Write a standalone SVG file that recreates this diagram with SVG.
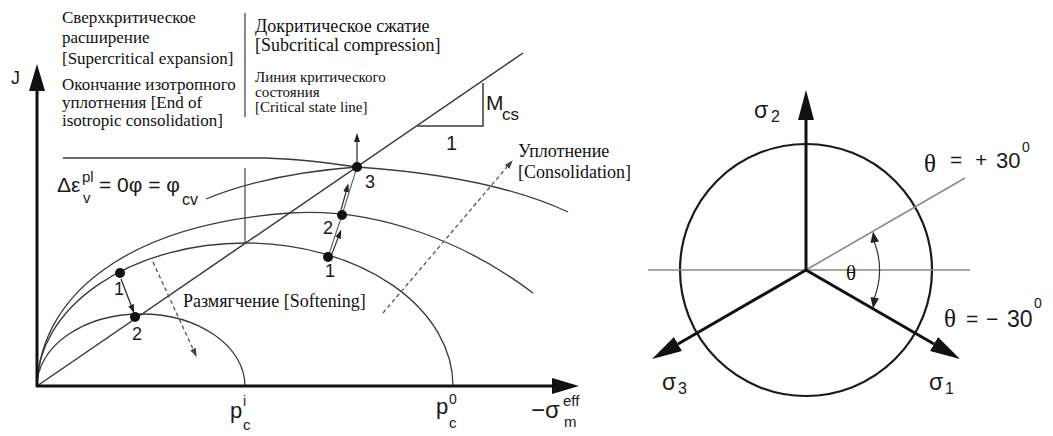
<svg xmlns="http://www.w3.org/2000/svg" width="1053" height="436" viewBox="0 0 1053 436">
<style>
.serif{font-family:"Liberation Serif","Times New Roman",serif;fill:#111}
.sans{font-family:"Liberation Sans",Arial,sans-serif;fill:#1a1a1a}
.axis{stroke:#111;stroke-width:3;fill:none}
.crv{stroke:#3a3a3a;stroke-width:1.3;fill:none}
.thin{stroke:#444;stroke-width:1.2;fill:none}
.dash{stroke:#555;stroke-width:1.3;fill:none;stroke-dasharray:4 3}
.gray{stroke:#8a8a8a;stroke-width:1.6;fill:none}
.dot{fill:#111}
</style>
<defs>
<marker id="axA" markerUnits="userSpaceOnUse" viewBox="0 0 27 16" markerWidth="27" markerHeight="16" refX="0" refY="8" orient="auto"><path d="M0,0 L27,8 L0,16 z" fill="#111"/></marker>
<marker id="sgA" markerUnits="userSpaceOnUse" viewBox="0 0 30 16" markerWidth="30" markerHeight="16" refX="0" refY="8" orient="auto"><path d="M0,0 L30,8 L0,16 z" fill="#111"/></marker>
<marker id="smA" markerUnits="userSpaceOnUse" viewBox="0 0 9 6" markerWidth="9" markerHeight="6" refX="0" refY="3" orient="auto"><path d="M0,0 L9,3 L0,6 z" fill="#222"/></marker>
<marker id="dgA" markerUnits="userSpaceOnUse" viewBox="0 0 9 6" markerWidth="9" markerHeight="6" refX="0" refY="3" orient="auto"><path d="M0,0 L9,3 L0,6 z" fill="#444"/></marker>
</defs>
<rect width="1053" height="436" fill="#fff"/>

<!-- Left diagram: curves -->
<g id="curves">
<path class="crv" d="M37,386 A104,72 0 0 1 245,386"/>
<path class="crv" d="M37,386 A208,143 0 0 1 453,386"/>
<path class="crv" d="M37,386 C40,300 120,225 290,213 C380,207 470,245 533,293"/>
<path class="crv" d="M63,158 L265,158 C300,159 330,163 357,167 C430,172 510,185 568,212"/>
<path class="crv" d="M206,199 C240,185 290,172 357,167"/>
<line class="thin" x1="245" y1="168" x2="245" y2="244"/>
<line class="crv" x1="37" y1="386" x2="523" y2="53" style="stroke-width:1.5"/>
<path class="crv" d="M417,126 H483 V83" style="stroke-width:1.5"/>
</g>

<!-- Axes -->
<g id="axes">
<line class="axis" x1="37" y1="387" x2="37" y2="91" marker-end="url(#axA)"/>
<line class="axis" x1="36" y1="386" x2="552" y2="386" marker-end="url(#axA)"/>
</g>

<!-- Connectors (state-path arrows) -->
<g id="connectors">
<line class="thin" x1="121" y1="279" x2="131" y2="305" style="stroke:#222" marker-end="url(#smA)"/>
<line class="thin" x1="328" y1="257" x2="342" y2="215" style="stroke:#666"/>
<line class="thin" x1="331" y1="256" x2="338" y2="238" style="stroke:#333" marker-end="url(#smA)"/>
<line class="thin" x1="342" y1="215" x2="357" y2="167" style="stroke:#666"/>
<line class="thin" x1="341" y1="210" x2="346" y2="192" style="stroke:#333" marker-end="url(#smA)"/>
<line class="thin" x1="357" y1="162" x2="357" y2="142" style="stroke:#222" marker-end="url(#smA)"/>
<line class="dash" x1="153" y1="262" x2="193" y2="349" marker-end="url(#dgA)"/>
<line class="dash" x1="383" y1="313" x2="507" y2="167" marker-end="url(#dgA)"/>
</g>

<!-- State points -->
<g id="point-1a"><circle class="dot" cx="120" cy="273" r="5"/><text class="sans" x="114" y="295" font-size="18">1</text></g>
<g id="point-2a"><circle class="dot" cx="135" cy="317" r="5"/><text class="sans" x="132" y="340" font-size="18">2</text></g>
<g id="point-1b"><circle class="dot" cx="328" cy="257" r="5"/><text class="sans" x="325" y="277" font-size="18">1</text></g>
<g id="point-2b"><circle class="dot" cx="342" cy="215" r="5"/><text class="sans" x="323" y="234" font-size="18">2</text></g>
<g id="point-3"><circle class="dot" cx="357" cy="167" r="5"/><text class="sans" x="365" y="188" font-size="18">3</text></g>

<!-- Left labels -->
<g id="label-J"><text class="sans" x="11" y="84" font-size="18">J</text></g>
<g id="label-supercritical" class="serif" font-size="17">
<text x="62" y="23">Сверхкритическое</text>
<text x="62" y="43">расширение</text>
<text x="62" y="64">[Supercritical expansion]</text>
<text x="62" y="90">Окончание изотропного</text>
<text x="62" y="108">уплотнения [End of</text>
<text x="62" y="126">isotropic consolidation]</text>
</g>
<line x1="245" y1="13" x2="245" y2="117" stroke="#8a8a8a" stroke-width="2"/>
<g id="label-subcritical" class="serif" font-size="18">
<text x="255" y="32">Докритическое сжатие</text>
<text x="255" y="51">[Subcritical compression]</text>
</g>
<g id="label-csl" class="serif" font-size="15">
<text x="255" y="82">Линия критического</text>
<text x="255" y="97">состояния</text>
<text x="255" y="112">[Critical state line]</text>
</g>
<g id="label-consolidation" class="serif" font-size="18">
<text x="518" y="157">Уплотнение</text>
<text x="518" y="178">[Consolidation]</text>
</g>
<g id="label-softening"><text class="serif" x="183" y="307" font-size="18">Размягчение [Softening]</text></g>
<g id="label-mcs" class="sans">
<text x="486" y="110" font-size="21">M</text>
<text x="502" y="120" font-size="17">cs</text>
<text x="446" y="150" font-size="20">1</text>
</g>
<g id="label-dilatancy" class="sans">
<text x="57" y="192" font-size="21">Δε</text>
<text x="82" y="182" font-size="15">pl</text>
<text x="83" y="203" font-size="15">v</text>
<text x="99" y="192" font-size="21">= 0φ = φ</text>
<text x="182" y="205" font-size="16">cv</text>
</g>
<g id="label-pci" class="sans">
<text x="230" y="418" font-size="22">p</text>
<text x="243" y="430" font-size="15">c</text>
<text x="243" y="406" font-size="14">i</text>
</g>
<g id="label-pc0" class="sans">
<text x="436" y="414" font-size="22">p</text>
<text x="449" y="428" font-size="15">c</text>
<text x="449" y="404" font-size="14">0</text>
</g>
<g id="label-sigma-m" class="sans">
<text x="531" y="418" font-size="24">−σ</text>
<text x="564" y="427" font-size="15">m</text>
<text x="563" y="406" font-size="15">eff</text>
</g>

<!-- Right diagram -->
<g id="deviatoric-plane">
<circle cx="806" cy="270" r="126" fill="none" stroke="#1a1a1a" stroke-width="2.2"/>
<line class="gray" x1="648" y1="270" x2="970" y2="270"/>
<line class="gray" x1="806" y1="270" x2="965" y2="178"/>
<path d="M873.5,240 A77,77 0 0 1 873.5,300" fill="none" stroke="#333" stroke-width="1.2"/>
<path d="M873,231.5 L870.5,243 L879,241.5 z" fill="#222"/>
<path d="M873,308.5 L870.5,297 L879,298.5 z" fill="#222"/>
</g>
<g id="axis-sigma2">
<line x1="806" y1="271" x2="806" y2="120" stroke="#111" stroke-width="3" marker-end="url(#sgA)"/>
<text class="sans" x="754" y="118" font-size="23">σ</text><text class="sans" x="771" y="122" font-size="16">2</text>
</g>
<g id="axis-sigma1">
<line x1="806" y1="270" x2="934" y2="344" stroke="#111" stroke-width="3" marker-end="url(#sgA)"/>
<text class="sans" x="929" y="390" font-size="23">σ</text><text class="sans" x="945" y="394" font-size="16">1</text>
</g>
<g id="axis-sigma3">
<line x1="806" y1="270" x2="678" y2="344" stroke="#111" stroke-width="3" marker-end="url(#sgA)"/>
<text class="sans" x="662" y="390" font-size="23">σ</text><text class="sans" x="678" y="394" font-size="16">3</text>
</g>
<g id="label-theta"><text class="serif" x="846" y="280" font-size="21">θ</text></g>
<g id="label-theta-plus">
<text class="serif" x="924" y="172" font-size="25">θ</text>
<text class="sans" x="950" y="167" font-size="21">=</text>
<text class="sans" x="975" y="167" font-size="21">+</text>
<text class="sans" x="996" y="168" font-size="22">30</text>
<text class="sans" x="1022" y="152" font-size="14">0</text>
</g>
<g id="label-theta-minus">
<text class="serif" x="944" y="327" font-size="25">θ</text>
<text class="sans" x="966" y="326" font-size="21">=</text>
<text class="sans" x="986" y="326" font-size="21">−</text>
<text class="sans" x="1007" y="327" font-size="23">30</text>
<text class="sans" x="1034" y="308" font-size="14">0</text>
</g>
</svg>
